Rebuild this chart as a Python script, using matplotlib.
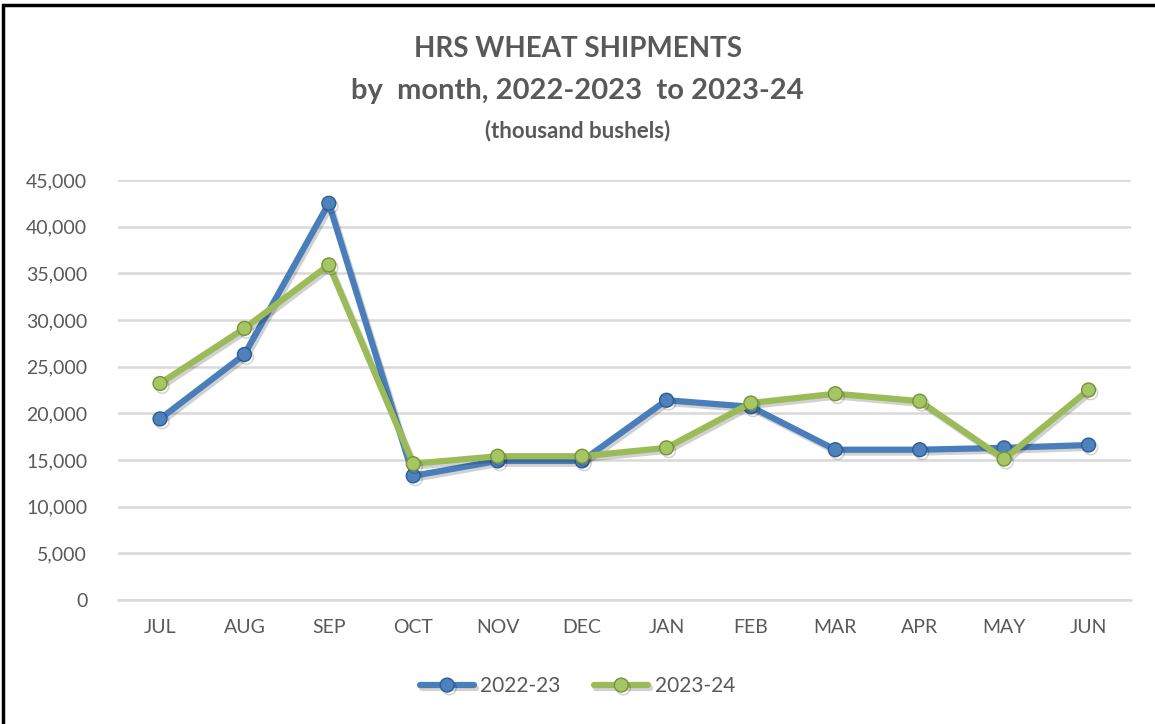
import matplotlib.pyplot as plt
import matplotlib.patheffects as pe
from matplotlib.patches import Rectangle

months = ['JUL', 'AUG', 'SEP', 'OCT', 'NOV', 'DEC', 'JAN', 'FEB', 'MAR', 'APR', 'MAY', 'JUN']
ship_2022_23 = [19400, 26300, 42500, 13300, 14900, 14900, 21400, 20700, 16100, 16100, 16300, 16600]
ship_2023_24 = [23200, 29100, 35900, 14600, 15400, 15400, 16300, 21100, 22100, 21300, 15100, 22500]
y_ticks = list(range(0, 45001, 5000))

plt.rcParams['font.family'] = ['Lato', 'DejaVu Sans']

fig = plt.figure(figsize=(11.55, 7.24), dpi=100)
ax = fig.add_axes([0.102, 0.1713, 0.877, 0.5801])

shadow = [pe.SimpleLineShadow(offset=(1.5, -2), alpha=0.18, rho=0.3), pe.Normal()]
x = range(len(months))
ax.plot(x, ship_2022_23, color='#4a7ebb', lw=4.5, marker='o', ms=10,
        mfc='#4f81bd', mec='#2c5d96', mew=1, label='2022-23', path_effects=shadow,
        solid_capstyle='round', zorder=3)
ax.plot(x, ship_2023_24, color='#9bbb59', lw=4.5, marker='o', ms=10,
        mfc='#a6c563', mec='#76923c', mew=1, label='2023-24', path_effects=shadow,
        solid_capstyle='round', zorder=4)

ax.set_xlim(-0.5, len(months) - 0.5)
ax.set_ylim(0, 45000)
ax.set_yticks(y_ticks)
ax.set_yticklabels([f'{v:,}' for v in y_ticks])
ax.set_xticks(list(x))
ax.set_xticklabels(months)
ax.tick_params(axis='both', length=0, labelsize=14, labelcolor='#595959')
ax.tick_params(axis='y', pad=22)
ax.tick_params(axis='x', pad=14)
ax.grid(axis='y', color='#d9d9d9', lw=1.8)
ax.set_axisbelow(True)
for s in ['top', 'right', 'left']:
    ax.spines[s].set_visible(False)
ax.spines['bottom'].set_color('#d9d9d9')
ax.spines['bottom'].set_linewidth(1.8)

fig.text(0.5, 0.933, 'HRS WHEAT SHIPMENTS', ha='center', va='center',
         fontsize=20, fontweight='bold', color='#595959')
fig.text(0.5, 0.875, 'by  month, 2022-2023  to 2023-24', ha='center', va='center',
         fontsize=21, fontweight='bold', color='#595959')
fig.text(0.5, 0.820, '(thousand bushels)', ha='center', va='center',
         fontsize=16, fontweight='bold', color='#595959')

leg = fig.legend(loc='center', bbox_to_anchor=(0.5, 0.052), ncol=2, frameon=False,
                 fontsize=15, handlelength=2.6, columnspacing=1.6, handletextpad=0.3)
for t in leg.get_texts():
    t.set_color('#595959')

fig.patches.append(Rectangle((0.003, -0.05), 1.05, 1.043, transform=fig.transFigure,
                             fill=False, ec='black', lw=2.5))

fig.savefig('out.png', dpi=100)
